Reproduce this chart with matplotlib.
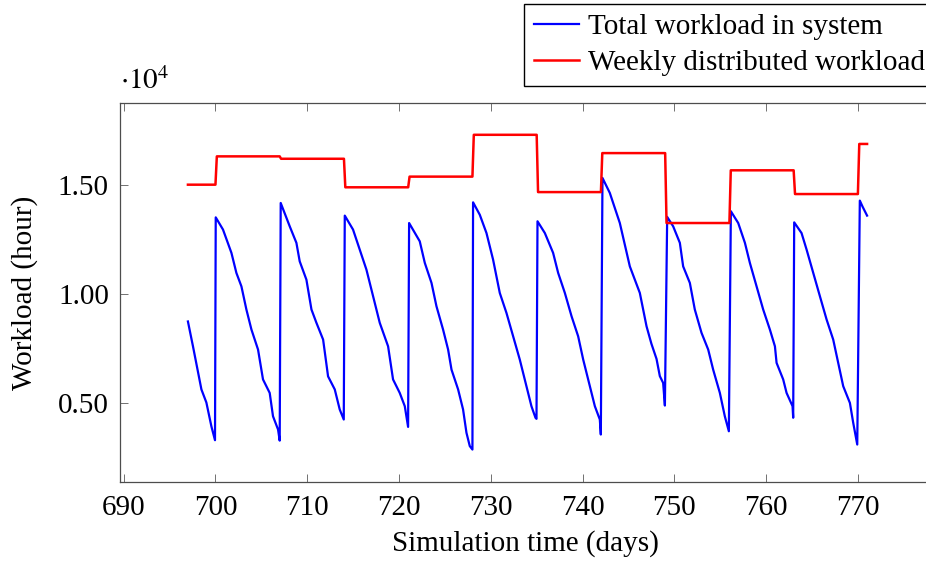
# Workload in system vs weekly distributed workload
import numpy as np
import matplotlib
matplotlib.use("Agg")
import matplotlib.pyplot as plt
from matplotlib.ticker import FuncFormatter

plt.rcParams['font.family'] = ['Liberation Serif', 'DejaVu Serif']
plt.rcParams['mathtext.fontset'] = 'stix'

# total workload in system (days, hours)
total_days = [697.0, 697.55, 698.47, 699.01, 699.56, 699.95,
              700.03, 700.82, 701.74, 702.28, 702.83, 703.37, 703.92, 704.64, 705.18, 705.91, 706.27, 706.82, 707.0,
              707.11, 708.09, 708.82, 709.18, 709.91, 710.46, 711.0, 711.73, 712.27, 713.0, 713.54, 713.98,
              714.09, 714.99, 715.72, 716.45, 717.17, 717.9, 718.81, 719.35, 720.08, 720.63, 720.99,
              721.1, 722.26, 722.81, 723.54, 724.08, 724.8, 725.35, 725.72, 726.44, 726.98, 727.35, 727.71, 728.0,
              728.07, 728.8, 729.53, 730.25, 730.98, 731.71, 732.43, 733.16, 733.89, 734.43, 734.87, 734.98,
              735.09, 735.89, 736.79, 737.34, 738.07, 738.8, 739.52, 740.07, 740.79, 741.34, 741.88, 741.99,
              742.17, 742.97, 744.06, 745.15, 746.24, 746.97, 747.5, 748.06, 748.42, 748.78, 748.97,
              749.22, 749.87, 750.6, 750.96, 751.69, 752.23, 752.96, 753.69, 754.23, 754.96, 755.5, 755.94,
              756.16, 756.96, 757.69, 758.23, 758.96, 759.68, 760.41, 760.96, 761.14, 761.86, 762.23, 762.88, 762.95,
              763.06, 763.86, 764.41, 765.13, 765.86, 766.59, 767.31, 767.86, 768.4, 769.13, 769.49, 769.93,
              770.21, 770.5, 771.0]
total_hours = [8720, 7580, 5600, 5000, 3900, 3270,
               13500, 12940, 11870, 10950, 10330, 9270, 8350, 7430, 6060, 5440, 4370, 3760, 3250,
               14160, 13090, 12330, 11480, 10640, 9270, 8660, 7890, 6200, 5600, 4680, 4220,
               13580, 12940, 12020, 11100, 9880, 8660, 7580, 6060, 5440, 4830, 3880,
               13240, 12400, 11410, 10490, 9420, 8350, 7430, 6510, 5600, 4680, 3610, 3000, 2840,
               14190, 13620, 12780, 11560, 10030, 9110, 8040, 6970, 5750, 4830, 4300, 4250,
               13320, 12780, 11870, 10950, 10030, 8960, 8040, 6970, 5750, 4830, 4220, 3530,
               15310, 14620, 13240, 11250, 10030, 8500, 7700, 7000, 6210, 5900, 4860,
               13520, 13090, 12330, 11250, 10490, 9270, 8200, 7430, 6510, 5440, 4370, 3680,
               13780, 13240, 12330, 11410, 10330, 9270, 8350, 7580, 6820, 6060, 5440, 4830, 4300,
               13270, 12780, 12020, 10950, 9880, 8810, 7890, 6820, 5750, 4980, 4070, 3070,
               14270, 14000, 13580]

# weekly distributed workload: week boundaries and levels
week_edges = [697, 700, 707, 714, 721, 728, 735, 742, 749, 756, 763, 770, 771]
week_levels = [15000, 16300, 16190, 14880, 15370, 17290, 14660, 16450, 13240, 15660, 14570, 16870]

# step line with a short ramp at each change
ramp = 0.15
weekly_days = []
weekly_hours = []
for i, lvl in enumerate(week_levels):
    start = week_edges[i] + (ramp if i > 0 else 0)
    weekly_days += [start, week_edges[i + 1]]
    weekly_hours += [lvl, lvl]

FS = 21

fig = plt.figure(figsize=(9.26, 5.61), dpi=100)
ax = fig.add_axes([0.1296, 0.1408, 0.8801, 0.6756])

ax.plot(total_days, total_hours, color=(0, 0, 1), lw=1.6, label='Total workload in system')
ax.plot(weekly_days, weekly_hours, color=(1, 0, 0), lw=1.8, label='Weekly distributed workload')

ax.set_xlim(689.6, 778.4)
ax.set_ylim(1350, 18750)
ax.set_xticks(np.arange(690, 771, 10))
ax.set_yticks([5000, 10000, 15000])
ax.yaxis.set_major_formatter(FuncFormatter(lambda v, p: '%.2f' % (v / 1e4)))
ax.tick_params(direction='in', length=6, width=0.6, top=True, right=True,
               labelsize=FS, color='0.35')
ax.tick_params(axis='x', pad=9)
ax.tick_params(axis='y', pad=8)
for s in ax.spines.values():
    s.set_linewidth(0.9)
    s.set_color('0.3')

ax.text(0.0, 1.02, r'$\cdot 10^4$', transform=ax.transAxes, fontsize=FS, ha='left', va='bottom')

ax.set_xlabel('Simulation time (days)', fontsize=FS, va='center')
ax.xaxis.set_label_coords(0.497, -0.163)
ax.set_ylabel('Workload (hour)', fontsize=FS, va='center')
ax.yaxis.set_label_coords(-0.117, 0.5)

leg = fig.legend(loc='lower left', bbox_to_anchor=(524 / 926, 1 - 86 / 561), fontsize=FS,
                 fancybox=False, edgecolor='black', framealpha=1, handlelength=1.55,
                 handletextpad=0.3, borderpad=0.33, labelspacing=0.35, borderaxespad=0)
leg.get_frame().set_linewidth(1.0)

fig.savefig('out.png', dpi=100)
